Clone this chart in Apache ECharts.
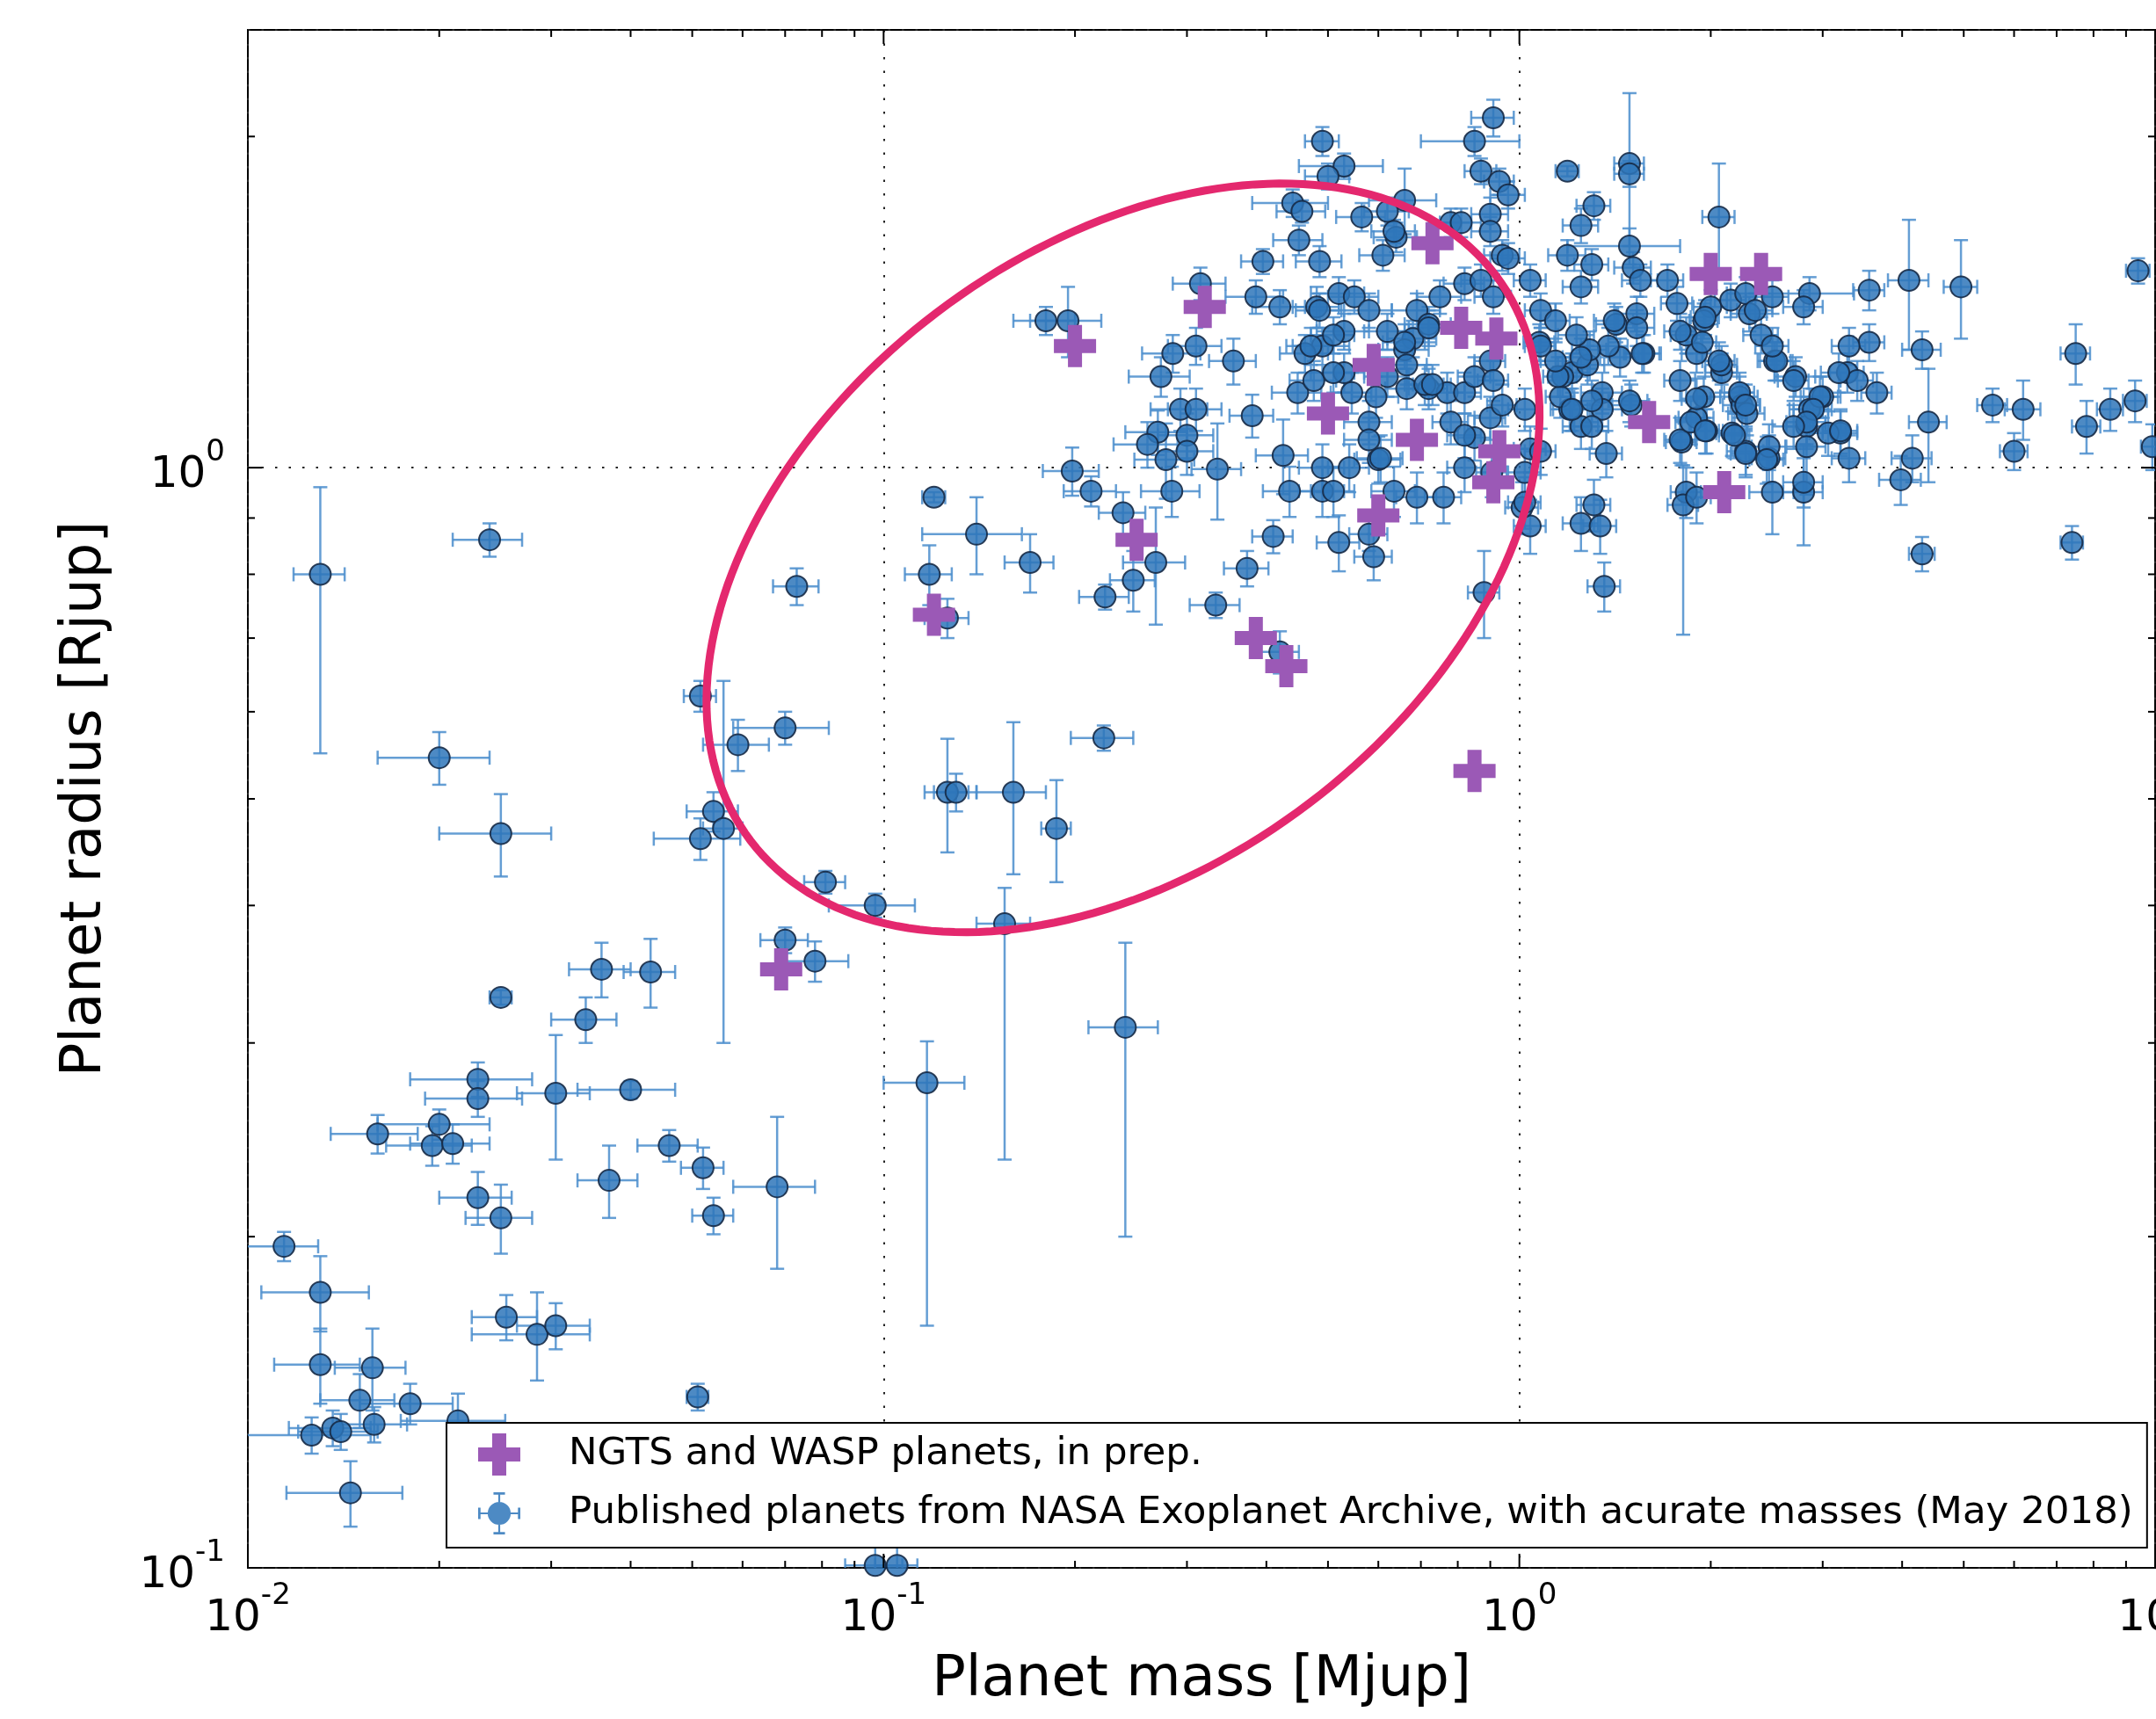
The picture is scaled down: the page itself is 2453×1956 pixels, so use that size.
<!DOCTYPE html>
<html>
<head>
<meta charset="utf-8">
<script src="https://cdn.jsdelivr.net/npm/echarts@6/dist/echarts.min.js"></script>
<style>
  html, body { margin: 0; padding: 0; background: #fff; }
  #chart { width: 2453px; height: 1956px; }
</style>
</head>
<body>
<div id="chart"></div>
<script>
// planets from the survey, [mass Mjup, radius Rjup]
const ngtsPlanets = [
  [0.20, 1.29], [0.32, 1.40], [0.73, 1.60], [0.81, 1.34], [0.92, 1.31], [0.59, 1.24],
  [0.50, 1.12], [0.69, 1.06], [0.93, 1.035], [0.91, 0.97], [0.60, 0.905], [0.25, 0.86],
  [0.12, 0.735], [0.385, 0.70], [0.43, 0.66], [0.85, 0.53], [0.069, 0.35], [1.6, 1.1],
  [2.1, 0.95], [2.0, 1.5], [2.4, 1.5]
];

// published planets, [mass, radius, mass err, radius err (low), radius err (high, optional)]
const publishedPlanets = [
  // low mass end
  [0.013, 0.80, 0.0012, 0.25, 0.16], [0.024, 0.86, 0.003, 0.03], [0.020, 0.545, 0.004, 0.03],
  [0.025, 0.465, 0.005, 0.04], [0.025, 0.33, 0.001, 0.005], [0.034, 0.315, 0.004, 0.015],
  [0.036, 0.35, 0.004, 0.02], [0.043, 0.348, 0.004, 0.025], [0.0305, 0.27, 0.004, 0.035],
  [0.040, 0.272, 0.007, 0.005], [0.023, 0.278, 0.005, 0.01], [0.023, 0.267, 0.004, 0.01],
  [0.020, 0.253, 0.004, 0.008], [0.0195, 0.242, 0.003, 0.01], [0.021, 0.243, 0.003, 0.01],
  [0.016, 0.248, 0.0025, 0.01], [0.023, 0.217, 0.003, 0.012], [0.025, 0.208, 0.003, 0.015],
  [0.037, 0.225, 0.004, 0.017], [0.046, 0.242, 0.005, 0.008], [0.052, 0.231, 0.004, 0.01],
  [0.054, 0.209, 0.004, 0.008], [0.068, 0.222, 0.01, 0.035], [0.0114, 0.196, 0.0015, 0.006],
  [0.013, 0.178, 0.0025, 0.014], [0.013, 0.153, 0.002, 0.012], [0.0157, 0.152, 0.002, 0.013],
  [0.015, 0.142, 0.002, 0.008], [0.018, 0.141, 0.003, 0.006], [0.0158, 0.135, 0.002, 0.005],
  [0.0126, 0.132, 0.003, 0.005], [0.0136, 0.134, 0.002, 0.005], [0.014, 0.133, 0.002, 0.005],
  [0.0145, 0.117, 0.003, 0.008], [0.0214, 0.136, 0.004, 0.008], [0.0255, 0.169, 0.003, 0.008],
  [0.0285, 0.163, 0.006, 0.015], [0.0305, 0.166, 0.004, 0.008], [0.051, 0.143, 0.002, 0.004],
  [0.097, 0.1005, 0.01, 0.004], [0.105, 0.1005, 0.008, 0.004],
  [0.0515, 0.62, 0.003, 0.02], [0.059, 0.56, 0.007, 0.03], [0.054, 0.487, 0.005, 0.02],
  [0.0515, 0.46, 0.008, 0.02], [0.056, 0.47, 0.004, 0.17], [0.070, 0.58, 0.012, 0.02],
  [0.073, 0.78, 0.006, 0.03], [0.081, 0.42, 0.006, 0.01], [0.070, 0.372, 0.006, 0.01],
  [0.078, 0.356, 0.01, 0.015], [0.097, 0.40, 0.015, 0.01],
  // 0.1 - 1 Mjup, sub-Jupiters
  [0.12, 0.94, 0.005, 0.01], [0.14, 0.87, 0.025, 0.07], [0.118, 0.80, 0.01, 0.05],
  [0.126, 0.73, 0.01, 0.03], [0.17, 0.82, 0.015, 0.05], [0.222, 0.568, 0.025, 0.015],
  [0.126, 0.507, 0.01, 0.06], [0.13, 0.507, 0.01, 0.02], [0.16, 0.507, 0.02, 0.08],
  [0.187, 0.47, 0.01, 0.05], [0.155, 0.385, 0.015, 0.15, 0.03], [0.24, 0.31, 0.03, 0.11, 0.06],
  [0.117, 0.276, 0.017, 0.11, 0.025],
  // inflated hot Jupiters
  [0.49, 1.98, 0.03, 0.06], [0.91, 2.08, 0.07, 0.08], [0.85, 1.98, 0.15, 0.06],
  [0.53, 1.88, 0.08, 0.05], [0.87, 1.86, 0.05, 0.05], [0.93, 1.82, 0.05, 0.05],
  [0.50, 1.84, 0.04, 0.05], [0.44, 1.74, 0.06, 0.05], [0.455, 1.71, 0.04, 0.04],
  [0.565, 1.69, 0.05, 0.05], [0.66, 1.75, 0.08, 0.12], [0.62, 1.71, 0.05, 0.05],
  [0.64, 1.62, 0.05, 0.05], [0.635, 1.64, 0.05, 0.04], [0.45, 1.61, 0.04, 0.05],
  [0.485, 1.54, 0.04, 0.05], [0.61, 1.56, 0.05, 0.05], [0.395, 1.54, 0.03, 0.04],
  [0.385, 1.43, 0.04, 0.05], [0.42, 1.40, 0.04, 0.05], [0.48, 1.40, 0.04, 0.06],
  [0.485, 1.39, 0.04, 0.05], [0.52, 1.44, 0.05, 0.05], [0.55, 1.43, 0.05, 0.05],
  [0.58, 1.39, 0.05, 0.05], [0.69, 1.39, 0.06, 0.05], [0.75, 1.43, 0.06, 0.05],
  [0.78, 1.67, 0.06, 0.05], [0.81, 1.67, 0.06, 0.05], [0.90, 1.70, 0.06, 0.06],
  [0.90, 1.64, 0.06, 0.05], [0.82, 1.47, 0.06, 0.05], [0.87, 1.48, 0.06, 0.05],
  [0.91, 1.43, 0.06, 0.05], [0.94, 1.56, 0.06, 0.05], [0.62, 1.33, 0.05, 0.05],
  [0.53, 1.33, 0.05, 0.05], [0.49, 1.29, 0.05, 0.05], [0.46, 1.27, 0.04, 0.05],
  [0.68, 1.31, 0.06, 0.05], [0.72, 1.35, 0.06, 0.05], [0.66, 1.28, 0.06, 0.05],
  [0.31, 1.29, 0.03, 0.05], [0.285, 1.27, 0.03, 0.05], [0.355, 1.25, 0.03, 0.06],
  [0.18, 1.36, 0.02, 0.04], [0.195, 1.36, 0.025, 0.1], [0.315, 1.47, 0.03, 0.05],
  [0.273, 1.21, 0.03, 0.05], [0.293, 1.13, 0.03, 0.05], [0.31, 1.13, 0.03, 0.05],
  [0.38, 1.115, 0.03, 0.05], [0.27, 1.077, 0.03, 0.05], [0.26, 1.05, 0.03, 0.05],
  [0.30, 1.07, 0.03, 0.05], [0.30, 1.035, 0.03, 0.05], [0.278, 1.017, 0.03, 0.08],
  [0.335, 0.997, 0.03, 0.1], [0.284, 0.952, 0.03, 0.05], [0.198, 0.993, 0.02, 0.05],
  [0.212, 0.952, 0.02, 0.03], [0.238, 0.91, 0.02, 0.04], [0.268, 0.82, 0.03, 0.1],
  [0.247, 0.79, 0.02, 0.05], [0.223, 0.763, 0.02, 0.02], [0.333, 0.75, 0.03, 0.02],
  [0.373, 0.81, 0.03, 0.03], [0.41, 0.866, 0.03, 0.03], [0.52, 0.855, 0.04, 0.05],
  [0.58, 0.87, 0.04, 0.03], [0.59, 0.83, 0.04, 0.04], [0.88, 0.77, 0.05, 0.07],
  [0.425, 1.026, 0.04, 0.08], [0.435, 0.952, 0.04, 0.05], [0.49, 0.952, 0.04, 0.05],
  [0.51, 0.952, 0.04, 0.05], [0.49, 1.0, 0.04, 0.05], [0.54, 1.0, 0.04, 0.05],
  [0.60, 1.017, 0.05, 0.05], [0.635, 0.952, 0.05, 0.05], [0.69, 0.94, 0.05, 0.05],
  [0.76, 0.94, 0.05, 0.05], [0.82, 1.0, 0.05, 0.05], [0.78, 1.10, 0.05, 0.05],
  [0.85, 1.065, 0.05, 0.05], [0.58, 1.10, 0.05, 0.05], [0.58, 1.06, 0.05, 0.05],
  [0.448, 1.17, 0.04, 0.05], [0.475, 1.20, 0.04, 0.05], [0.53, 1.22, 0.04, 0.05],
  [0.51, 1.22, 0.04, 0.05], [0.545, 1.17, 0.04, 0.05], [0.595, 1.16, 0.05, 0.05],
  [0.62, 1.21, 0.05, 0.05], [0.665, 1.18, 0.05, 0.05], [0.72, 1.18, 0.05, 0.05],
  [0.665, 1.24, 0.05, 0.05], [0.66, 1.30, 0.05, 0.05], [0.72, 1.34, 0.05, 0.05],
  [0.77, 1.17, 0.05, 0.05], [0.82, 1.17, 0.05, 0.05], [0.85, 1.21, 0.05, 0.05],
  [0.90, 1.25, 0.05, 0.05], [0.90, 1.11, 0.05, 0.05], [0.905, 0.99, 0.05, 0.05],
  [0.91, 1.2, 0.05, 0.05], [0.94, 1.14, 0.05, 0.05], [0.71, 1.19, 0.05, 0.05],
  [0.73, 1.19, 0.05, 0.05], [0.605, 1.02, 0.05, 0.05], [0.82, 1.07, 0.05, 0.05],
  [0.42, 0.68, 0.03, 0.03], [0.51, 1.32, 0.04, 0.05], [0.47, 1.29, 0.04, 0.05],
  // above 1 Mjup
  [0.96, 1.77, 0.06, 0.05], [1.19, 1.86, 0.05, 0.02], [1.49, 1.89, 0.08, 0.3],
  [1.49, 1.85, 0.08, 0.05], [1.31, 1.73, 0.08, 0.05], [1.25, 1.66, 0.08, 0.06],
  [2.06, 1.69, 0.12, 0.2], [0.96, 1.55, 0.06, 0.05], [1.19, 1.56, 0.08, 0.05],
  [1.49, 1.59, 0.3, 0.06], [1.04, 1.48, 0.06, 0.05], [1.30, 1.53, 0.08, 0.05],
  [1.25, 1.46, 0.08, 0.05], [1.51, 1.52, 0.1, 0.05], [1.55, 1.48, 0.1, 0.05],
  [1.71, 1.48, 0.1, 0.05], [1.77, 1.41, 0.1, 0.05], [2.0, 1.40, 0.12, 0.05],
  [2.15, 1.42, 0.12, 0.05], [2.3, 1.38, 0.15, 0.05], [2.5, 1.43, 0.15, 0.05],
  [2.86, 1.44, 0.5, 0.05], [2.8, 1.40, 0.2, 0.05], [3.55, 1.45, 0.2, 0.06],
  [4.1, 1.48, 0.3, 0.2], [4.95, 1.46, 0.3, 0.15], [9.4, 1.51, 0.4, 0.04],
  [7.5, 1.27, 0.4, 0.08], [4.3, 1.28, 0.3, 0.05], [3.55, 1.30, 0.2, 0.05],
  [3.3, 1.29, 0.2, 0.05], [3.28, 1.22, 0.2, 0.05], [3.4, 1.20, 0.2, 0.05],
  [3.65, 1.17, 0.2, 0.05], [3.2, 1.075, 0.2, 0.05], [3.3, 1.02, 0.2, 0.05],
  [3.0, 1.16, 0.2, 0.05], [2.86, 1.13, 0.2, 0.05], [2.83, 1.09, 0.2, 0.05],
  [2.83, 1.045, 0.2, 0.1], [2.8, 0.95, 0.2, 0.1], [2.5, 0.95, 0.2, 0.08],
  [2.47, 1.02, 0.15, 0.05], [2.27, 1.035, 0.15, 0.05], [2.72, 1.21, 0.2, 0.05],
  [2.52, 1.25, 0.15, 0.05], [2.4, 1.32, 0.15, 0.05], [2.22, 1.16, 0.15, 0.05],
  [2.24, 1.14, 0.15, 0.05], [2.08, 1.22, 0.12, 0.05], [1.95, 1.16, 0.12, 0.05],
  [1.90, 1.11, 0.12, 0.05], [1.97, 1.08, 0.12, 0.05], [2.16, 1.075, 0.12, 0.05],
  [1.8, 1.055, 0.1, 0.05], [1.83, 0.95, 0.1, 0.05], [1.81, 0.925, 0.1, 0.22, 0.08],
  [1.9, 0.94, 0.1, 0.05], [1.83, 1.32, 0.1, 0.05], [1.9, 1.27, 0.1, 0.05],
  [1.95, 1.36, 0.1, 0.05], [1.53, 1.38, 0.1, 0.05], [1.57, 1.27, 0.1, 0.05],
  [1.42, 1.35, 0.1, 0.05], [1.35, 1.17, 0.1, 0.05], [1.35, 1.13, 0.1, 0.05],
  [1.30, 1.15, 0.08, 0.05], [1.2, 1.13, 0.08, 0.05], [1.25, 1.09, 0.08, 0.05],
  [1.30, 1.09, 0.08, 0.05], [1.37, 1.03, 0.08, 0.05], [1.04, 1.04, 0.06, 0.05],
  [1.08, 1.035, 0.06, 0.05], [1.16, 1.16, 0.06, 0.05], [1.21, 1.22, 0.08, 0.05],
  [1.075, 1.30, 0.06, 0.05], [1.08, 1.39, 0.06, 0.05], [1.14, 1.36, 0.06, 0.05],
  [1.17, 1.21, 0.06, 0.05], [1.25, 0.89, 0.08, 0.05], [1.34, 0.885, 0.08, 0.05],
  [1.31, 0.925, 0.08, 0.05], [1.04, 0.885, 0.06, 0.05], [1.36, 0.78, 0.08, 0.04],
  [1.01, 0.92, 0.06, 0.05], [1.02, 0.99, 0.06, 0.05], [1.5, 1.14, 0.1, 0.05],
  [1.44, 1.26, 0.1, 0.05], [2.28, 1.12, 0.15, 0.05], [2.47, 1.045, 0.15, 0.05],
  [3.18, 1.22, 0.2, 0.05], [4.15, 1.02, 0.3, 0.05], [3.98, 0.975, 0.3, 0.05],
  [4.4, 1.1, 0.3, 0.13], [5.55, 1.14, 0.3, 0.04], [6.2, 1.13, 0.4, 0.07],
  [6.0, 1.035, 0.3, 0.04], [7.8, 1.09, 0.4, 0.06], [8.5, 1.13, 0.4, 0.05],
  [9.3, 1.15, 0.4, 0.05], [9.9, 1.045, 0.4, 0.05], [7.4, 0.855, 0.3, 0.03],
  [4.3, 0.835, 0.2, 0.03], [3.06, 1.075, 0.2, 0.05],
  [1.15, 1.21, 0.06, 0.05], [1.28, 1.24, 0.08, 0.05], [1.21, 1.13, 0.08, 0.05],
  [1.02, 1.13, 0.06, 0.05], [1.49, 1.15, 0.1, 0.05], [1.79, 1.06, 0.1, 0.05],
  [1.86, 1.10, 0.1, 0.05], [1.79, 1.2, 0.1, 0.05], [1.9, 1.155, 0.1, 0.05],
  [1.96, 1.08, 0.1, 0.05], [2.08, 1.24, 0.12, 0.05], [2.22, 1.17, 0.12, 0.05],
  [2.27, 1.14, 0.12, 0.05], [2.18, 1.07, 0.12, 0.05], [2.27, 1.03, 0.12, 0.05],
  [2.45, 1.017, 0.15, 0.05], [2.54, 1.25, 0.15, 0.05], [2.7, 1.2, 0.15, 0.05],
  [2.97, 1.16, 0.2, 0.05], [2.9, 1.13, 0.2, 0.05], [2.83, 1.1, 0.2, 0.05],
  [2.7, 1.09, 0.2, 0.05], [3.2, 1.08, 0.2, 0.05], [1.02, 0.93, 0.06, 0.05],
  [2.8, 0.97, 0.2, 0.05], [2.27, 1.44, 0.15, 0.05], [2.35, 1.39, 0.15, 0.05],
  [2.5, 1.29, 0.15, 0.05], [1.79, 1.33, 0.1, 0.05], [1.94, 1.30, 0.1, 0.05],
  [2.06, 1.25, 0.12, 0.05], [1.96, 1.37, 0.1, 0.05], [1.41, 1.36, 0.1, 0.05],
  [1.53, 1.34, 0.1, 0.05], [1.56, 1.27, 0.1, 0.05], [1.38, 1.29, 0.1, 0.05],
  [1.29, 1.28, 0.08, 0.05], [1.23, 1.32, 0.08, 0.05], [1.08, 1.29, 0.06, 0.05],
  [1.14, 1.25, 0.06, 0.05], [1.25, 1.26, 0.08, 0.05]
];

// axis ticks (log scale)
const xMajorTicks = [0.01, 0.1, 1, 10];
const xMinorTicks = [0.02, 0.03, 0.04, 0.05, 0.06, 0.07, 0.08, 0.09,
  0.2, 0.3, 0.4, 0.5, 0.6, 0.7, 0.8, 0.9, 2, 3, 4, 5, 6, 7, 8, 9];
const yMajorTicks = [0.1, 1];
const yMinorTicks = [0.2, 0.3, 0.4, 0.5, 0.6, 0.7, 0.8, 0.9, 2];

// highlighted region: centre [mass, radius], half axes in decades [dlogM, dlogR]
const ellipseCenter = [0.238, 0.828];
const ellipseAxisA = [0.586, 0.257];
const ellipseAxisB = [-0.293, 0.223];

const NGTS_NAME = 'NGTS and WASP planets, in prep.';
const PUB_NAME = 'Published planets from NASA Exoplanet Archive, with acurate masses (May 2018)';
const FONT = 'DejaVu Sans';
const ERR_COLOR = 'rgba(74,141,204,0.85)';
const CROSS_PATH = 'path://M8,0H16V8H24V16H16V24H8V16H0V8H8Z';
const ERRBAR_ICON = 'path://M23,2H25V46H23Z M18,2H30V4.5H18Z M18,43.5H30V46H18Z M2,23H46V25H2Z M2,18H4.5V30H2Z M43.5,18H46V30H43.5Z M36,24A12,12,0,1,1,12,24A12,12,0,1,1,36,24Z';

const chart = echarts.init(document.getElementById('chart'));

function powerLabel(v) {
  const e = Math.log10(v);
  const n = Math.round(e);
  if (Math.abs(e - n) > 1e-6) return '';
  return '{b|10}{s|' + (n < 0 ? '-' + (-n) : n) + '}';
}

const labelRich = {
  b: { fontSize: 50, lineHeight: 68, verticalAlign: 'bottom', fontFamily: FONT, color: '#000' },
  s: { fontSize: 34, lineHeight: 34, verticalAlign: 'top', fontFamily: FONT, color: '#000' }
};

function renderErrorBar(params, api) {
  const m = api.value(0), r = api.value(1), dm = api.value(2);
  const drLo = api.value(3), drHi = api.value(4);
  const c = api.coord([m, r]);
  const xl = api.coord([m - dm, r])[0];
  const xh = api.coord([m + dm, r])[0];
  const yl = api.coord([m, r - drLo])[1];
  const yh = api.coord([m, r + drHi])[1];
  const cap = 8;
  const st = { stroke: ERR_COLOR, lineWidth: 2.5 };
  const seg = (x1, y1, x2, y2) => ({ type: 'line', shape: { x1, y1, x2, y2 }, style: st });
  return {
    type: 'group',
    children: [
      seg(xl, c[1], xh, c[1]),
      seg(xl, c[1] - cap, xl, c[1] + cap),
      seg(xh, c[1] - cap, xh, c[1] + cap),
      seg(c[0], yl, c[0], yh),
      seg(c[0] - cap, yl, c[0] + cap, yl),
      seg(c[0] - cap, yh, c[0] + cap, yh)
    ]
  };
}

function renderEllipse(params, api) {
  const cx = Math.log10(api.value(0)), cy = Math.log10(api.value(1));
  const pts = [];
  for (let i = 0; i < 200; i++) {
    const t = i / 200 * 2 * Math.PI;
    const lx = cx + ellipseAxisA[0] * Math.cos(t) + ellipseAxisB[0] * Math.sin(t);
    const ly = cy + ellipseAxisA[1] * Math.cos(t) + ellipseAxisB[1] * Math.sin(t);
    pts.push(api.coord([Math.pow(10, lx), Math.pow(10, ly)]));
  }
  return { type: 'polygon', shape: { points: pts }, style: { fill: 'none', stroke: '#e4286e', lineWidth: 9 } };
}

// ticks drawn inward on all four sides
function renderXTick(params, api) {
  const cs = params.coordSys;
  const x = api.coord([api.value(0), 1])[0];
  const len = api.value(1);
  const st = { stroke: '#000', lineWidth: 2 };
  return { type: 'group', children: [
    { type: 'line', shape: { x1: x, y1: cs.y + cs.height, x2: x, y2: cs.y + cs.height - len }, style: st },
    { type: 'line', shape: { x1: x, y1: cs.y, x2: x, y2: cs.y + len }, style: st }
  ] };
}
function renderYTick(params, api) {
  const cs = params.coordSys;
  const y = api.coord([1, api.value(1)])[1];
  const len = api.value(0);
  const st = { stroke: '#000', lineWidth: 2 };
  return { type: 'group', children: [
    { type: 'line', shape: { x1: cs.x, y1: y, x2: cs.x + len, y2: y }, style: st },
    { type: 'line', shape: { x1: cs.x + cs.width, y1: y, x2: cs.x + cs.width - len, y2: y }, style: st }
  ] };
}

const xTickData = xMajorTicks.map(v => [v, 16]).concat(xMinorTicks.map(v => [v, 8]));
const yTickData = yMajorTicks.map(v => [16, v]).concat(yMinorTicks.map(v => [8, v]));
const errData = publishedPlanets.map(p => [p[0], p[1], p[2], p[3], p.length > 4 ? p[4] : p[3]]);

const option = {
  animation: false,
  backgroundColor: '#fff',
  grid: {
    left: 282, right: 1, top: 34, bottom: 172,
    show: true, borderColor: '#000', borderWidth: 2, backgroundColor: '#fff',
    outerBoundsMode: 'none'
  },
  legend: {
    orient: 'vertical',
    left: 508, top: 1619,
    padding: [12, 16, 15, 36],
    itemWidth: 48, itemHeight: 48, itemGap: 19,
    backgroundColor: '#fff',
    borderColor: '#000', borderWidth: 2, borderRadius: 0,
    selectedMode: false,
    z: 10,
    textStyle: { fontFamily: FONT, fontSize: 43.5, color: '#000', padding: [0, 0, 0, 50] },
    data: [
      { name: NGTS_NAME, icon: CROSS_PATH },
      { name: PUB_NAME, icon: ERRBAR_ICON, itemStyle: { borderWidth: 0 } }
    ]
  },
  xAxis: {
    type: 'log', logBase: 10, min: 0.01, max: 10,
    name: 'Planet mass [Mjup]', nameLocation: 'middle', nameGap: 96,
    nameTextStyle: { fontFamily: FONT, fontSize: 64, color: '#000' },
    axisLine: { show: false },
    axisTick: { show: false },
    axisLabel: { formatter: powerLabel, rich: labelRich, margin: 15 },
    splitLine: { show: true, lineStyle: { color: '#222', width: 2, type: [2.5, 13] } },
    minorTick: { show: false }
  },
  yAxis: {
    type: 'log', logBase: 10, min: 0.1, max: 2.5,
    name: 'Planet radius [Rjup]', nameLocation: 'middle', nameGap: 153,
    nameTextStyle: { fontFamily: FONT, fontSize: 64, color: '#000' },
    axisLine: { show: false },
    axisTick: { show: false },
    axisLabel: { formatter: powerLabel, rich: labelRich, margin: 26 },
    splitLine: { show: true, lineStyle: { color: '#222', width: 2, type: [2.5, 13] } }
  },
  series: [
    {
      name: PUB_NAME, type: 'scatter', z: 3, clip: true,
      symbol: 'circle', symbolSize: 24,
      itemStyle: { color: 'rgba(46,117,186,0.85)', borderColor: 'rgba(22,42,70,0.9)', borderWidth: 2, opacity: 1 },
      data: publishedPlanets.map(p => [p[0], p[1]])
    },
    {
      name: PUB_NAME, type: 'custom', z: 2, clip: true,
      renderItem: renderErrorBar, encode: { x: 0, y: 1 },
      itemStyle: { color: 'rgba(46,117,186,0.85)' },
      data: errData, silent: true
    },
    {
      name: NGTS_NAME, type: 'scatter', z: 4, clip: true,
      symbol: CROSS_PATH, symbolSize: 48,
      itemStyle: { color: '#9b59b6', opacity: 1 },
      data: ngtsPlanets
    },
    {
      name: 'region', type: 'custom', z: 5, silent: true,
      renderItem: renderEllipse, encode: { x: 0, y: 1 },
      data: [ellipseCenter]
    },
    {
      name: 'xticks', type: 'custom', z: 6, silent: true,
      renderItem: renderXTick, encode: { x: 0 },
      data: xTickData
    },
    {
      name: 'yticks', type: 'custom', z: 6, silent: true,
      renderItem: renderYTick, encode: { x: 0, y: 1 },
      data: yTickData
    }
  ]
};

chart.setOption(option);
</script>
</body>
</html>
